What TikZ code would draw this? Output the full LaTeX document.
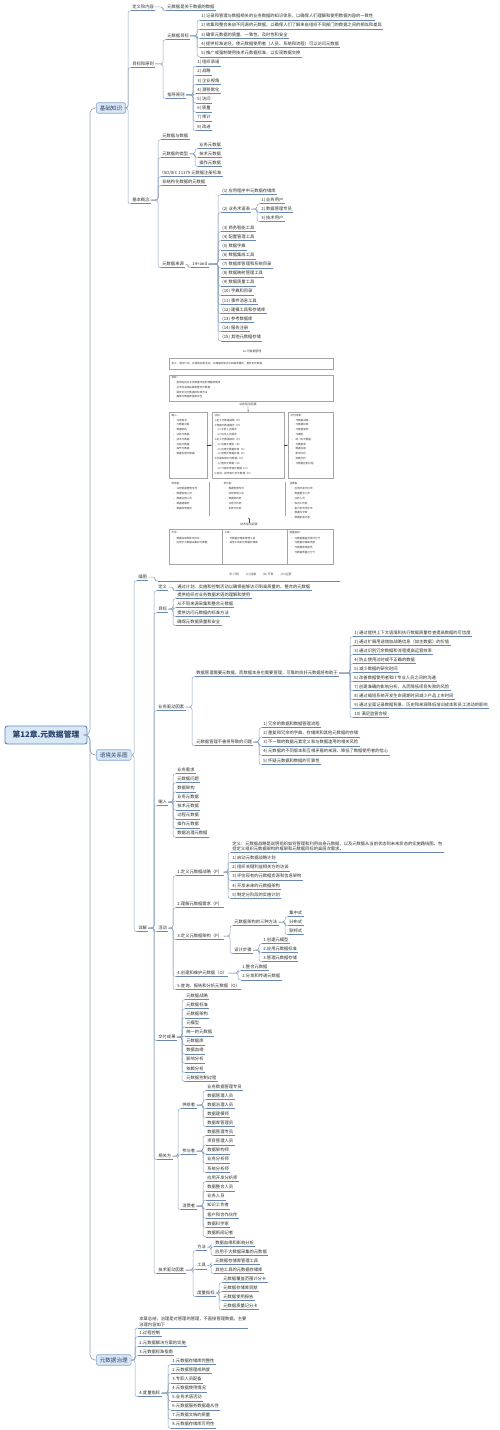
\documentclass[tikz,border=0pt]{standalone}
\usepackage{fontspec}
\setmainfont{Noto Sans CJK SC}
\usetikzlibrary{arrows.meta}
\definecolor{MmInk}{RGB}{40,66,104}
\definecolor{MmPale}{RGB}{218,231,245}
\definecolor{MmEdge}{RGB}{92,136,188}
\definecolor{MmLine}{RGB}{104,136,178}
\definecolor{MmLink}{RGB}{146,166,192}
\definecolor{MmText}{RGB}{45,45,45}
\definecolor{PicGray}{RGB}{165,165,165}
\definecolor{PicInk}{RGB}{60,60,60}
\tikzset{
  mm/root/.style={
    draw=MmEdge,
    line width=0.9bp,
    rounded corners=2.5bp,
    fill=MmPale,
    text=MmInk,
    font=\fontsize{7.8}{9}\selectfont\bfseries,
    minimum width=82bp,
    minimum height=18bp,
    inner sep=0pt
  },
  mm/main/.style={
    anchor=west,
    draw=MmEdge!75,
    line width=0.6bp,
    rounded corners=1.5bp,
    fill=MmPale,
    text=MmInk,
    font=\fontsize{5.6}{6.5}\selectfont,
    minimum height=10.5bp,
    inner xsep=3.5bp,
    inner ysep=0pt
  },
  mm/uline/.style={draw=MmLine, line width=0.6bp},
  mm/topic/.style={
    anchor=west,
    inner xsep=1.2bp,
    inner ysep=1.3bp,
    text height=3.4bp,
    text depth=0.9bp,
    text=MmText,
    font=\fontsize{4.3}{5.6}\selectfont,
    append after command={(\tikzlastnode.south west) edge[mm/uline] (\tikzlastnode.south east)}
  },
  mm/para/.style={
    anchor=south west,
    align=left,
    inner xsep=1.2bp,
    inner ysep=1.3bp,
    text=MmText,
    font=\fontsize{4.3}{5.6}\selectfont,
    append after command={(\tikzlastnode.south west) edge[mm/uline] (\tikzlastnode.south east)}
  },
  mm/link/.style={draw=MmLink, line width=0.5bp, rounded corners=2.5bp},
  mm/trunk/.style={draw=MmLink, line width=0.7bp, rounded corners=5bp},
  mm/pic/box/.style={anchor=north west, draw=PicGray, line width=0.3bp, inner sep=0pt},
  mm/pic/txt/.style={anchor=west, inner sep=0.3bp, text=PicInk, font=\fontsize{2.6}{3.2}\selectfont},
  mm/pic/head/.style={inner sep=0.3bp, text=PicInk, font=\fontsize{2.9}{3.4}\selectfont},
  mm/pic/arrow/.style={-{Latex[length=1.5bp,width=1.3bp]}, draw=PicInk, line width=0.3bp}
}
\newcommand{\mmlink}[2]{\draw[mm/link] (#1.east) -| ([xshift=-3bp]#2.south west) -- (#2.south west);}
\newcommand{\mmdot}{\makebox[4bp][l]{•}}
\newcommand{\mmsub}{\hspace*{3bp}}

\begin{document}
\begin{tikzpicture}[x=1bp,y=-1bp]
  \path[use as bounding box,fill=white] (0,0) rectangle (500,1430);

  \node[mm/root] (root) at (46,735) {第12章.元数据管理};
  \node[mm/main] (kb) at (96,108) {基础知识};
  \node[mm/main] (ctx) at (96,755) {语境关系图};
  \node[mm/main] (gov) at (96,1360) {元数据治理};
  \foreach \k in {kb,ctx,gov}
    \draw[mm/trunk] (root.east) -| ([xshift=-6bp]\k.west) -- (\k.west);

  % basic knowledge
  \node[mm/topic] (dfn) at (131,7) {定义和内容};
  \node[mm/topic] (dfn-c) at (166,7) {元数据是关于数据的数据};
  \node[mm/topic] (aim) at (131,64) {目标和原则};
  \node[mm/topic] (basic) at (131,200) {基本概念};
  \foreach \k in {dfn,aim,basic} {\mmlink{kb}{\k}}
  \mmlink{dfn}{dfn-c}
  \node[mm/topic] (goal) at (166,36) {元数据目标};
  \node[mm/topic] (rule) at (166,95) {指导原则};
  \mmlink{aim}{goal}
  \mmlink{aim}{rule}
  \foreach \t [count=\i] in {
    {1) 记录和管理与数据相关的业务数据的知识体系，以确保人们理解和使用数据内容的一致性},
    {2) 收集和整合来自不同源的元数据，以确保人们了解来自组织不同部门的数据之间的相似和差异},
    {3) 确保元数据的质量、一致性、及时性和安全},
    {4) 提供标准途径，使元数据使用者（人员、系统和流程）可以访问元数据},
    {5) 推广或强制使用技术元数据标准，以实现数据交换}} {
    \node[mm/topic] (goal-\i) at (200,{7.3+9.2*\i}) {\t};
    \mmlink{goal}{goal-\i}
  }
  \foreach \t [count=\i] in {1) 组织承诺,2) 战略,3) 企业视角,4) 潜移默化,5) 访问,6) 质量,7) 审计,8) 改进} {
    \node[mm/topic] (rule-\i) at (196,{53.3+9.2*\i}) {\t};
    \mmlink{rule}{rule-\i}
  }
  \node[mm/topic] (bc-a) at (161,136) {元数据与数据};
  \node[mm/topic] (kind) at (161,154) {元数据的类型};
  \node[mm/topic] (bc-b) at (161,173) {ISO/IEC 11179 元数据注册标准};
  \node[mm/topic] (bc-c) at (161,182) {非结构化数据的元数据};
  \node[mm/topic] (src) at (161,264) {元数据来源};
  \foreach \k in {bc-a,kind,bc-b,bc-c,src} {\mmlink{basic}{\k}}
  \foreach \t [count=\i] in {业务元数据,技术元数据,操作元数据} {
    \node[mm/topic] (kind-\i) at (198,{136+9*\i}) {\t};
    \mmlink{kind}{kind-\i}
  }
  \node[mm/topic] (src-n) at (191,264) {14+and};
  \mmlink{src}{src-n}
  \foreach \t [count=\i] in {
    (1) 应用程序中元数据存储库,(2) 业务术语表,(3) 商务智能工具,(4) 配置管理工具,
    (5) 数据字典,(6) 数据集成工具,(7) 数据库管理和系统目录,(8) 数据映射管理工具,
    (9) 数据质量工具,(10) 字典和目录,(11) 事件消息工具,(12) 建模工具和存储库,
    (13) 参考数据库,(14) 服务注册,(15) 其他元数据存储} {
    \pgfmathsetmacro\yy{\i==1 ? 191 : (\i==2 ? 209 : 228+9.1*(\i-3))}
    \node[mm/topic] (src-\i) at (221,\yy) {\t};
    \mmlink{src-n}{src-\i}
  }
  \foreach \t [count=\i] in {1) 业务用户,2) 数据管理专员,3) 技术用户} {
    \node[mm/topic] (term-\i) at (260,{191+9*\i}) {\t};
    \mmlink{src-2}{term-\i}
  }

  % context diagram
  \node[mm/topic] (fig) at (137,577) {插图};
  \node[mm/topic] (det) at (137,928) {详解};
  \mmlink{ctx}{fig}
  \mmlink{ctx}{det}
  \node[mm/topic,anchor=south west,minimum width=182bp,minimum height=236bp] (figpic) at (158,581) {};
  \mmlink{fig}{figpic}

  \node[mm/pic/head] (ptitle) at (252,351) {12.元数据管理};
  \node[mm/pic/box,minimum width=164bp,minimum height=11bp] (pdef) at (169,358) {};
  \node[mm/pic/txt] (pdef-t) at (171,363.5) {定义：通过计划、实施和控制活动，以确保能够访问到高质量的、整合的元数据};
  \node[mm/pic/box,minimum width=164bp,minimum height=26bp] (pgoal) at (169,375) {};
  \node[mm/pic/txt] (pgoal-0) at (171,378) {目标：};
  \foreach \t [count=\i] in {提供组织对业务数据术语的理解和使用,从不同来源采集和整合元数据,提供访问元数据的标准方法,确保元数据质量和安全}
    \node[mm/pic/txt] (pgoal-\i) at (172,{377.8+4.8*\i}) {\mmdot\t};
  \node[mm/pic/head] (pbiz) at (248,404.3) {业务驱动因素};
  \node[mm/pic/box,minimum width=38bp,minimum height=66bp] (pin) at (169,412) {};
  \node[mm/pic/box,minimum width=72bp,minimum height=66bp] (pact) at (212,412) {};
  \node[mm/pic/box,minimum width=45bp,minimum height=66bp] (pout) at (288,412) {};
  \draw[mm/pic/arrow] (pbiz.south) -- (pact.north);
  \draw[mm/pic/arrow] (pin.east) -- (pact.west);
  \draw[mm/pic/arrow] (pact.east) -- (pout.west);
  \node[mm/pic/txt] (pin-0) at (171,415.7) {输入：};
  \foreach \t [count=\i] in {业务需求,元数据问题,数据架构,业务元数据,技术元数据,过程元数据,操作元数据,数据治理元数据}
    \node[mm/pic/txt] (pin-\i) at (172,{415.4+4.8*\i}) {\mmdot\t};
  \node[mm/pic/txt] (pact-0) at (214,415.7) {活动：};
  \foreach \t [count=\i] in {
    1.定义元数据战略（P）,2.理解元数据需求（P）,{\mmsub(1) 业务人员需求},{\mmsub(2) 技术人员需求},
    3.定义元数据架构（P）,{\mmsub(1) 创建元模型（D）},{\mmsub(2) 应用元数据标准（C）},{\mmsub(3) 管理元数据存储（C）},
    4.创建和维护元数据（O）,{\mmsub(1) 整合元数据（O）},{\mmsub(2) 分发和传递元数据（O）},5.查询、报告和分析元数据（O）}
    \node[mm/pic/txt] (pact-\i) at (214,{415.6+4.8*\i}) {\t};
  \node[mm/pic/txt] (pout-0) at (290,415.7) {交付成果：};
  \foreach \t [count=\i] in {元数据战略,元数据标准,元数据架构,元模型,统一的元数据,元数据库,数据血缘,影响分析,依赖分析,元数据控制过程}
    \node[mm/pic/txt] (pout-\i) at (291,{415.4+4.8*\i}) {\mmdot\t};
  \draw[PicGray,line width=0.3bp] (209,482) -- (209,516) (285,482) -- (285,516);
  \node[mm/pic/txt] (psup-0) at (171,484) {供给者：};
  \foreach \t [count=\i] in {业务数据管理专员,数据管理人员,数据治理人员,数据建模师,数据库管理员}
    \node[mm/pic/txt] (psup-\i) at (172,{484.2+4.8*\i}) {\mmdot\t};
  \node[mm/pic/txt] (ppar-0) at (223,484) {参与者：};
  \foreach \t [count=\i] in {数据管理专员,项目管理人员,数据架构师,业务分析师,系统分析师}
    \node[mm/pic/txt] (ppar-\i) at (224,{484.2+4.8*\i}) {\mmdot\t};
  \node[mm/pic/txt] (pcon-0) at (289,484) {消费者：};
  \foreach \t [count=\i] in {应用开发分析师,数据整合人员,业务人员,知识工作者,客户和合作伙伴,数据科学家,数据新闻记者}
    \node[mm/pic/txt] (pcon-\i) at (290,{484.2+4.8*\i}) {\mmdot\t};
  \node[mm/pic/head] (ptech) at (249,524.5) {技术驱动因素};
  \coordinate (ptech-tip) at (249,517.5);
  \draw[mm/pic/arrow] (ptech.north) -- (ptech-tip);
  \node[mm/pic/box,minimum width=164bp,minimum height=35bp] (pbot) at (169,529) {};
  \draw[PicGray,line width=0.3bp] (222,529) -- (222,564) (287,529) -- (287,564);
  \node[mm/pic/txt] (pmeth-0) at (171,533) {方法：};
  \foreach \t [count=\i] in {数据血缘和影响分析,应用于大数据采集的元数据}
    \node[mm/pic/txt] (pmeth-\i) at (172,{533.5+4.7*\i}) {\mmdot\t};
  \node[mm/pic/txt] (ptool-0) at (224,533) {工具：};
  \foreach \t [count=\i] in {元数据存储库管理工具,其他工具的元数据存储库}
    \node[mm/pic/txt] (ptool-\i) at (225,{533.5+4.7*\i}) {\mmdot\t};
  \node[mm/pic/txt] (pmetr-0) at (289,533) {度量指标：};
  \foreach \t [count=\i] in {元数据覆盖范围计分卡,元数据存储库贡献,元数据使用报告,元数据质量记分卡}
    \node[mm/pic/txt] (pmetr-\i) at (290,{533.5+4.7*\i}) {\mmdot\t};
  \node[mm/pic/head] (pfoot) at (260,575) {(P) 计划\hspace{7bp}(C) 控制\hspace{7bp}(D) 开发\hspace{7bp}(O) 运营};

  % details
  \node[mm/topic] (d-def) at (157,587) {定义};
  \node[mm/topic] (d-aim) at (157,609) {目标};
  \node[mm/topic] (d-drv) at (157,707) {业务驱动因素};
  \node[mm/topic] (d-in) at (157,802) {输入};
  \node[mm/topic] (d-act) at (157,928) {活动};
  \node[mm/topic] (d-out) at (157,1037) {交付成果};
  \node[mm/topic] (d-role) at (157,1156) {相关方};
  \node[mm/topic] (d-tech) at (157,1270) {技术驱动因素};
  \foreach \k in {d-def,d-aim,d-drv,d-in,d-act,d-out,d-role,d-tech} {\mmlink{det}{\k}}
  \node[mm/topic] (d-def-c) at (176,587) {通过计划、实施和控制活动以确保能够访问到高质量的、整合的元数据};
  \mmlink{d-def}{d-def-c}
  \foreach \t [count=\i] in {提供组织对业务数据术语的理解和使用,从不同来源采集和整合元数据,提供访问元数据的标准方法,确保元数据质量和安全} {
    \node[mm/topic] (aim-\i) at (176,{586+9*\i}) {\t};
    \mmlink{d-aim}{aim-\i}
  }
  \node[mm/topic] (need) at (195,673) {数据管理需要元数据，而数据本身也需要管理，可靠的良好元数据将有助于};
  \node[mm/topic] (risk) at (195,742) {元数据管理不善将导致的问题};
  \mmlink{d-drv}{need}
  \mmlink{d-drv}{risk}
  \foreach \t [count=\i] in {
    {1) 通过提供上下文语境和执行数据质量检查提高数据的可信度},
    {2) 通过扩展用途增加战略信息（如主数据）的价值},
    {3) 通过识别冗余数据和流程提高运营效率},
    {4) 防止使用过时或不正确的数据},
    {5) 减少数据的研究时间},
    {6) 改善数据使用者和IT专业人员之间的沟通},
    {7) 创建准确的影响分析，从而降低项目失败的风险},
    {8) 通过缩短系统开发生命周期时间减少产品上市时间},
    {9) 通过全面记录数据背景、历史和来源降低培训成本和员工流动的影响},
    {10) 满足监管合规}} {
    \node[mm/topic] (need-\i) at (353,{624+9*\i}) {\t};
    \mmlink{need}{need-\i}
  }
  \foreach \t [count=\i] in {
    {1) 冗余的数据和数据管理流程},
    {2) 重复和冗余的字典、存储库和其他元数据的存储},
    {3) 不一致的数据元素定义和与数据滥用的相关风险},
    {4) 元数据的不同版本和互相矛盾的来源，降低了数据使用者的信心},
    {5) 怀疑元数据和数据的可靠性}} {
    \node[mm/topic] (risk-\i) at (262,{714.8+9.2*\i}) {\t};
    \mmlink{risk}{risk-\i}
  }
  \foreach \t [count=\i] in {业务需求,元数据问题,数据架构,业务元数据,技术元数据,过程元数据,操作元数据,数据治理元数据} {
    \node[mm/topic] (in-\i) at (176,{760.9+9.1*\i}) {\t};
    \mmlink{d-in}{in-\i}
  }
  \node[mm/topic] (act-1) at (176,872) {1.定义元数据战略（P）};
  \node[mm/topic] (act-2) at (176,904) {2.理解元数据需求（P）};
  \node[mm/topic] (act-3) at (176,936) {3.定义元数据架构（P）};
  \node[mm/topic] (act-4) at (176,973) {4.创建和维护元数据（O）};
  \node[mm/topic] (act-5) at (176,986) {5.查询、报告和分析元数据（O）};
  \foreach \k in {1,...,5} {\mmlink{d-act}{act-\k}}
  \node[mm/para] (act1-def) at (231,852.6) {定义：元数据战略是说明组织如何管理和利用自身元数据，以及元数据从当前状态到未来状态的实施路线图。包\\括定义组织元数据架构的框架和元数据目标的高层次需求。};
  \mmlink{act-1}{act1-def}
  \foreach \t [count=\i] in {1) 启动元数据战略计划,2) 组织关键利益相关方的访谈,3) 评估现有的元数据资源和信息架构,4) 开发未来的元数据架构,5) 制定分阶段的实施计划} {
    \node[mm/topic] (act1-\i) at (231,{849.4+9.1*\i}) {\t};
    \mmlink{act-1}{act1-\i}
  }
  \node[mm/topic] (arch) at (233,922) {元数据架构的三种方法};
  \node[mm/topic] (design) at (233,950) {设计步骤};
  \mmlink{act-3}{arch}
  \mmlink{act-3}{design}
  \foreach \t [count=\i] in {集中式,分布式,联邦式} {
    \node[mm/topic] (arch-\i) at (288,{904+9*\i}) {\t};
    \mmlink{arch}{arch-\i}
  }
  \foreach \t [count=\i] in {1.创建元模型,2.应用元数据标准,3.管理元数据存储} {
    \node[mm/topic] (design-\i) at (262,{931+9*\i}) {\t};
    \mmlink{design}{design-\i}
  }
  \node[mm/topic] (act4-1) at (241,967) {1.整合元数据};
  \node[mm/topic] (act4-2) at (241,976.5) {2.分发和传递元数据};
  \mmlink{act-4}{act4-1}
  \mmlink{act-4}{act4-2}
  \foreach \t [count=\i] in {元数据战略,元数据标准,元数据架构,元模型,统一的元数据,元数据库,数据血缘,影响分析,依赖分析,元数据控制过程} {
    \node[mm/topic] (out-\i) at (185,{986.9+9.1*\i}) {\t};
    \mmlink{d-out}{out-\i}
  }
  \node[mm/topic] (sup) at (181,1105) {供给者};
  \node[mm/topic] (par) at (181,1151) {参与者};
  \node[mm/topic] (con) at (181,1206) {消费者};
  \foreach \k in {sup,par,con} {\mmlink{d-role}{\k}}
  \foreach \t [count=\i] in {业务数据管理专员,数据管理人员,数据治理人员,数据建模师,数据库管理员} {
    \node[mm/topic] (sup-\i) at (206,{1078+9*\i}) {\t};
    \mmlink{sup}{sup-\i}
  }
  \foreach \t [count=\i] in {数据管理专员,项目管理人员,数据架构师,业务分析师,系统分析师} {
    \node[mm/topic] (par-\i) at (206,{1122.8+9.2*\i}) {\t};
    \mmlink{par}{par-\i}
  }
  \foreach \t [count=\i] in {应用开发分析师,数据整合人员,业务人员,知识工作者,客户和合作伙伴,数据科学家,数据新闻记者} {
    \node[mm/topic] (con-\i) at (206,{1168.8+9.2*\i}) {\t};
    \mmlink{con}{con-\i}
  }
  \node[mm/topic] (meth) at (196,1247) {方法};
  \node[mm/topic] (tool) at (196,1265.5) {工具};
  \node[mm/topic] (metr) at (196,1293) {度量指标};
  \foreach \k in {meth,tool,metr} {\mmlink{d-tech}{\k}}
  \node[mm/topic] (meth-1) at (214,1243) {数据血缘和影响分析};
  \node[mm/topic] (meth-2) at (214,1252) {应用于大数据采集的元数据};
  \node[mm/topic] (tool-1) at (214,1261) {元数据存储库管理工具};
  \node[mm/topic] (tool-2) at (214,1270) {其他工具的元数据存储库};
  \foreach \k in {1,2} {\mmlink{meth}{meth-\k} \mmlink{tool}{tool-\k}}
  \foreach \t [count=\i] in {元数据覆盖范围计分卡,元数据存储库贡献,元数据使用报告,元数据质量记分卡} {
    \node[mm/topic] (metr-\i) at (222,{1270+9*\i}) {\t};
    \mmlink{metr}{metr-\i}
  }

  % governance
  \node[mm/para] (gov-0) at (138,1328) {本章总结，治理是对管理的管理，不直接管理数据，主要\\治理内容如下};
  \node[mm/topic] (gov-1) at (138,1333) {1.过程控制};
  \node[mm/topic] (gov-2) at (138,1343) {2.元数据解决方案的实施};
  \node[mm/topic] (gov-3) at (138,1352) {3.元数据标准指南};
  \node[mm/topic] (gov-4) at (138,1393) {4.度量指标};
  \foreach \k in {0,...,4} {\mmlink{gov}{gov-\k}}
  \foreach \t [count=\i] in {1.元数据存储库完整性,2.元数据管理成熟度,3.专职人员配备,4.元数据使用情况,5.业务术语活动,6.元数据服务数据遵从性,7.元数据文档的质量,8.元数据存储库可用性} {
    \node[mm/topic] (gm-\i) at (171,{1351.9+9.1*\i}) {\t};
    \mmlink{gov-4}{gm-\i}
  }
\end{tikzpicture}
\end{document}
